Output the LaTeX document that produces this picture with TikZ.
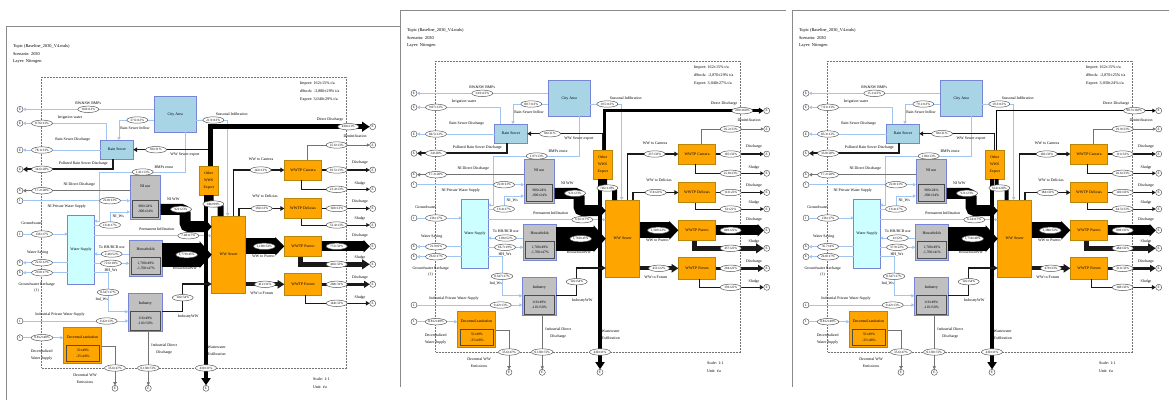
\documentclass[tikz,border=0pt]{standalone}
\usepackage{fontspec}
\setmainfont{Liberation Serif}
\usetikzlibrary{arrows.meta,shapes.geometric}

\definecolor{cityblue}{HTML}{A8D5E6}
\definecolor{wscyan}{HTML}{CCFFFF}
\definecolor{boxline}{HTML}{7685D6}
\definecolor{procgray}{HTML}{C0C0C0}
\definecolor{wwsorange}{HTML}{FFA500}
\definecolor{orline}{HTML}{B8860B}
\definecolor{flowblue}{HTML}{9FC5F0}
\definecolor{framegray}{HTML}{8A8A8A}

% values of the three scenarios
\newcommand\valsA{%
 \def\frameW{394}\def\frameH{374}\def\wDD{5pt}\def\wOWE{6pt}%
 \def\vImp{162±15\% t/a}\def\vStock{-2,880±29\% t/a}\def\vExp{3,040±29\% t/a}%
 \def\vRW{10.8±13\%}\def\vIrr{8.76±13\%}\def\vRSI{37.6±13\%}\def\vRSD{78.1±13\%}%
 \def\vPRSD{34.6±28\%}\def\vWWSE{86±31\%}\def\vBMP{1.41±13\%}\def\vNIDD{17.2±28\%}%
 \def\vNIPWS{22.8±13\%}\def\vNIWs{19.4±17\%}\def\vGW{136±17\%}\def\vWSav{22.6±12\%}%
 \def\vGWR{29.8±17\%}\def\vHHR{2.46±52\%}\def\vHHWs{72.6±18\%}\def\vIndWs{0.347±17\%}%
 \def\vIPWS{9.42±13\%}\def\vDWS{0.812±40\%}%
 \def\vNIa{906±24\%}\def\vNIb{-906±24\%}\def\vHHa{1,700±49\%}\def\vHHb{-1,700±47\%}%
 \def\vINa{116±49\%}\def\vINb{-116±50\%}\def\vDCa{35±49\%}\def\vDCb{-35±48\%}%
 \def\vNIWW{921±23\%}\def\vHHWW{1,770±45\%}\def\vINWW{126±54\%}\def\vPerm{7.48±17\%}%
 \def\vSeas{21.9±13\%}\def\vOWE{946±99\%}\def\vDD{430±21\%}\def\vExf{430±31\%}%
 \def\vDCE{35.6±47\%}\def\vIDD{0.138±72\%}%
 \def\vWWC{142±13\%}\def\vWWD{156±13\%}\def\vWWP{1,190±33\%}\def\vWWF{412±31\%}%
 \def\vDen{25.6±13\%}\def\vCD{93.5±13\%}\def\vCS{23.4±13\%}\def\vDeD{103±13\%}%
 \def\vDeS{53.4±13\%}\def\vPD{772±33\%}\def\vPS{416±33\%}\def\vFD{268±31\%}\def\vFS{144±31\%}}
\newcommand\valsB{\valsA
 \def\frameW{386}\def\frameH{377}\def\wDD{2.5pt}\def\wOWE{5pt}%
 \def\vStock{-2,870±29\% t/a}\def\vExp{3,040±27\% t/a}%
 \def\vRW{14.9±13\%}\def\vIrr{9.07±13\%}\def\vRSI{80.7±13\%}\def\vRSD{84.5±13\%}%
 \def\vPRSD{34±28\%}\def\vBMP{1.97±13\%}\def\vNIDD{17.3±28\%}\def\vWSav{21.9±6\%}%
 \def\vGWR{26.6±17\%}\def\vHHR{1.86±52\%}\def\vHHWs{66.7±19\%}%
 \def\vHHWW{1,760±45\%}\def\vPerm{6.65±17\%}\def\vSeas{19.5±13\%}\def\vOWE{746±110\%}%
 \def\vDD{230±168\%}%
 \def\vWWC{237±33\%}\def\vWWD{174±22\%}\def\vWWP{1,310±22\%}\def\vWWF{451±22\%}%
 \def\vDen{26.2±33\%}\def\vCD{165±33\%}\def\vCS{25.8±33\%}\def\vDeD{113±22\%}%
 \def\vDeS{61±22\%}\def\vPD{849±22\%}\def\vPS{457±22\%}\def\vFD{294±22\%}\def\vFS{159±22\%}}
\newcommand\valsC{\valsA
 \def\frameW{377}\def\frameH{377}\def\wDD{1pt}\def\wOWE{4pt}%
 \def\vStock{-2,870±25\% t/a}\def\vExp{3,030±24\% t/a}%
 \def\vRW{15.1±13\%}\def\vIrr{7.91±13\%}\def\vRSI{79.1±13\%}\def\vRSD{83.3±13\%}%
 \def\vPRSD{33.8±28\%}\def\vBMP{1.86±13\%}\def\vWSav{35.7±4\%}%
 \def\vGWR{24.8±17\%}\def\vHHR{4±32\%}\def\vHHWs{37.9±22\%}\def\vHHb{-1,700±41\%}%
 \def\vHHWW{1,750±40\%}\def\vPerm{6.24±17\%}\def\vSeas{19.3±13\%}\def\vOWE{614±128\%}%
 \def\vDD{98.3±102\%}%
 \def\vWWC{166±33\%}\def\vWWD{184±33\%}\def\vWWP{1,380±32\%}\def\vWWF{479±33\%}%
 \def\vDen{29.9±33\%}\def\vCD{111±33\%}\def\vCS{26.6±33\%}\def\vDeD{120±33\%}%
 \def\vDeS{64.5±33\%}\def\vPD{898±32\%}\def\vPS{484±32\%}\def\vFD{311±33\%}\def\vFS{168±33\%}}

% one scenario panel, local pixel coordinates
\newcommand\flowpanel{%
  % window frame and system boundary
  \draw[framegray, line width=0.9pt] (\frameW,0) -- (0,0) -- (0,\frameH);
  \draw[black!55, densely dotted, line width=0.5pt] (35.7,51) rectangle (340.7,342);
  \node[anchor=west, align=left, font=\fontsize{4.4}{7.3}\selectfont] (topic) at (7,28) {Topic (Baseline\_2030\_V4.mdx)\\Scenario: 2030\\Layer: Nitrogen};
  \node[anchor=west, align=left, font=\fontsize{4.1}{8}\selectfont] (totals) at (294,65.5) {Import: \vImp\\dStock: \vStock\\Export: \vExp};
  \node[anchor=west, align=left, font=\fontsize{4.1}{7.4}\selectfont] (scale) at (307,357) {Scale: 1:1\\Unit: t/a};
  % processes
  \node[bluebox, minimum width=41.7pt, minimum height=35.6pt] (city) at (169.2,88.5) {City Area};
  \node[bluebox, minimum width=32.6pt, minimum height=19.3pt] (rain) at (111,123.7) {Rain Sewer};
  \node[procbox, minimum width=30.7pt, minimum height=43.3pt] (niuse) at (139.3,171.3) {};
  \node (niuse-t) at (139.3,160.7) {NI use};
  \node[stockbox, minimum width=25.6pt, minimum height=17.3pt] (niuse-s) at (139.5,182.7) {\vNIa\\\vNIb};
  \node[wsbox, minimum width=26.6pt, minimum height=69pt] (water) at (75,223.5) {Water Supply};
  \node[procbox, minimum width=33pt, minimum height=35.3pt] (hh) at (139.8,232.3) {};
  \node (hh-t) at (139.8,223.3) {Households};
  \node[stockbox, minimum width=28.3pt, minimum height=16.7pt] (hh-s) at (139.9,239.7) {\vHHa\\\vHHb};
  \node[procbox, minimum width=34pt, minimum height=38.4pt] (ind) at (139.3,286.5) {};
  \node (ind-t) at (139.3,277.3) {Industry};
  \node[stockbox, minimum width=29.3pt, minimum height=19pt] (ind-s) at (139.3,295.2) {\vINa\\\vINb};
  \node[orbox, minimum width=38.4pt, minimum height=36pt] (dec) at (76.5,319.3) {};
  \node (dec-t) at (76.5,310.7) {Decentral sanitation};
  \node[stockbox, fill=wwsorange, minimum width=32.3pt, minimum height=16.7pt] (dec-s) at (76.9,327.3) {\vDCa\\\vDCb};
  \node[orbox, minimum width=19.3pt, minimum height=29pt, align=center, font=\fontsize{3.8}{7}\selectfont] (oww) at (202.7,154.5) {Other\\WWS\\Export};
  \node[orbox, minimum width=34pt, minimum height=77.3pt] (sewer) at (222.7,228.7) {WW Sewer};
  \foreach \n/\t/\y/\h in {cant/Cantera/144/20, deli/Delicias/182.5/20.4, puer/Puerto/220.3/20.7, foru/Forum/258.3/22}
    \node[orbox, minimum width=37.4pt, minimum height=\h pt] (wwtp-\n) at (297,\y) {WWTP \t};
  % import and export terminals
  \foreach \n/\y/\t in {rw/83.3/E, irr/97.3/E, rsd/124/E, prsd/143.3/E, nidd/164.7/E, nipws/174.7/I, gw/208/I, wsav/236.7/E, gwr/246.7/E, ipws/295/I, dws/311.7/I}
    \node[term] (t-\n) at (14,\y) {\t};
  \foreach \n/\y in {dd/100.7, den/119, cd/144, cs/163.3, ded/182.5, des/199, pd/220.3, ps/238.3, fd/258.3, fs/277.3}
    \node[term] (t-\n) at (366.7,\y) {E};
  \foreach \n/\x in {dce/109, idd/142.3, exf/200}
    \node[term] (t-\n) at (\x,362.3) {E};
  % water and storm water flows
  \draw[lb] (city.west |- t-rw) -- (t-rw);
  \draw[lb] ([xshift=5.3pt]rain.north west) |- (t-irr);
  \draw[lb] ([yshift=-5.5pt]city.west) -| ([xshift=2pt]rain.north);
  \draw[lb] (rain.west |- t-rsd) -- (t-rsd);
  \draw[lb] ([xshift=9.8pt]city.south) |- (93,146) -- (93,195) -- ([yshift=28.5pt]water.east);
  \draw[lb] (t-nipws) -- (niuse.west |- t-nipws);
  \draw[lb] ([yshift=24.5pt]water.east) -| (104,186) -- ([yshift=-14.7pt]niuse.west);
  \draw[lb] (t-gw) -- (water.west |- t-gw);
  \draw[lb] (water.west |- t-wsav) -- (t-wsav);
  \draw[lb] (water.west |- t-gwr) -- (t-gwr);
  \draw[lb] ([yshift=4.3pt]hh.west) -- ([yshift=-4.5pt]water.east);
  \draw[lb] ([yshift=-13.8pt]water.east) -- ([yshift=-5pt]hh.west);
  \draw[lb] ([yshift=-23.2pt]water.east) -| (102,285.7) -- ([yshift=0.8pt]ind.west);
  \draw[lb] (t-ipws) -- (ind.west |- t-ipws);
  \draw[lb] (t-dws) -- (dec.west |- t-dws);
  \draw[lb] ([yshift=13.8pt]water.east) -- ([yshift=19pt]sewer.west);
  \draw[lb] ([yshift=-5.5pt]city.east) -| ([xshift=-1pt]sewer.north);
  % nitrogen in wastewater
  \draw[gl] (niuse.west |- t-nidd) -- (t-nidd);
  \draw[dk, line width=2pt] ([xshift=-4.3pt]rain.south) |- (t-prsd);
  \draw[dk, line width=1.5pt] ([xshift=-0.4pt]oww.north) |- (rain.east);
  \draw[blk=\wDD] ([xshift=2pt]oww.north) |- (t-dd);
  \draw[blk=\wOWE, -, rounded corners=3pt] ([xshift=-8pt]sewer.north) -- ++(0,12pt) -| ([xshift=2pt]oww.south);
  \draw[blk=4.5pt] ([xshift=-2.7pt]oww.south) -- (t-exf);
  \draw[band=11pt, rounded corners=4pt, -{Triangle[length=6pt,width=13pt]}] ([yshift=-12pt]niuse.east) -- (179,183.3) -- (179,200.7) -- ([yshift=28pt]sewer.west);
  \draw[band=24pt, -{Triangle[length=12pt,width=26pt]}] (hh.east |- sewer.west) -- (sewer.west);
  \draw[dk, line width=1.5pt] ([yshift=0.8pt]ind.east) -- (176.7,285.7) |- ([yshift=-29.3pt]sewer.west);
  \draw[dk, line width=1.5pt] ([xshift=4.6pt]sewer.north) |- (wwtp-cant.west);
  \draw[dk, line width=1.5pt] ([xshift=10.3pt]sewer.north) |- (wwtp-deli.west);
  \draw[band=16pt, -{Triangle[length=9pt,width=18pt]}] (sewer.east |- wwtp-puer.west) -- (wwtp-puer.west);
  \draw[dk, line width=4pt] (sewer.east |- wwtp-foru.west) -- (wwtp-foru.west);
  \draw[gl, line width=0.6pt] ([xshift=4.3pt]wwtp-cant.north) |- (t-den);
  \draw[dk, line width=1.2pt] (wwtp-cant.east) -- (t-cd);
  \draw[dk, line width=1pt] ([xshift=-1.3pt]wwtp-cant.south) |- (t-cs);
  \draw[dk, line width=1.2pt] (wwtp-deli.east) -- (t-ded);
  \draw[dk, line width=1pt] ([xshift=-1.3pt]wwtp-deli.south) |- (t-des);
  \draw[band=10pt, -{Triangle[length=6pt,width=12pt]}] (wwtp-puer.east) -- (t-pd);
  \draw[dk, line width=5pt] ([xshift=-3pt]wwtp-puer.south) |- (t-ps);
  \draw[dk, line width=3pt] (wwtp-foru.east) -- (t-fd);
  \draw[dk, line width=1.5pt] ([xshift=2.7pt]wwtp-foru.south) |- (t-fs);
  \draw[gl] ([yshift=-1.4pt]dec.east) -| (t-dce);
  \draw[gl, line width=0.6pt] (ind.south -| t-idd) -- (t-idd);
  % flow values
  \foreach \n/\x/\y/\v in {rw/82.3/83.3/\vRW, irr/36/97.3/\vIrr, rsi/131.3/94/\vRSI, rsd/36/124/\vRSD,
      prsd/36/143.3/\vPRSD, wwse/150/123.7/\vWWSE, bmp/136.7/146/\vBMP, nidd/36/164.7/\vNIDD,
      nipws/104/174.7/\vNIPWS, niws/104/199/\vNIWs, gw/36/208/\vGW, wsav/36/236.7/\vWSav,
      gwr/36/246.7/\vGWR, hhr/105.7/228/\vHHR, hhws/105/237.3/\vHHWs, indws/102/266.3/\vIndWs,
      ipws/100.7/295/\vIPWS, dws/36/311.7/\vDWS, niww/175/183.3/\vNIWW, hhww/180.7/228.7/\vHHWW,
      indww/176.7/271.7/\vINWW, perm/182.3/209.7/\vPerm, seas/207.3/94/\vSeas, owe/207.3/178/\vOWE,
      dd/342.3/100.7/\vDD, exf/200/342/\vExf, dce/109/342/\vDCE, idd/142.3/342/\vIDD,
      wwc/254.7/144/\vWWC, wwd/255.7/182.5/\vWWD, wwp/258.3/220.3/\vWWP, wwf/259/258.3/\vWWF,
      den/330.7/119/\vDen, cd/330.7/144/\vCD, cs/330.7/163.3/\vCS, ded/330.7/182.5/\vDeD,
      des/330.7/199/\vDeS, pd/330.7/220.3/\vPD, ps/330.7/238.3/\vPS, fd/330.7/258.3/\vFD, fs/330.7/277.3/\vFS}
    \node[val] (v-\n) at (\x,\y) {\v};
  % flow names
  \node (l-rw) at (82.3,77.3) {RW\&SW BMPs};
  \node (l-irr) at (64,91.7) {Irrigation water};
  \node (l-rsi) at (129,102.3) {Rain Sewer Inflow};
  \node (l-rsd) at (66.7,114) {Rain Sewer Discharge};
  \node (l-prsd) at (77.3,138) {Polluted Rain Sewer Discharge};
  \node (l-wwse) at (179,128.3) {WW Sewer export};
  \node (l-bmp) at (158,141.7) {BMPs reuse};
  \node (l-nidd) at (73.3,159) {NI Direct Discharge};
  \node (l-nipws) at (60.7,180.7) {NI Private Water Supply};
  \node (l-niww) at (167.3,173) {NI WW};
  \node (l-niws) at (112.3,190) {NI\_Ws};
  \node (l-gw) at (25.7,196.7) {Groundwater};
  \node (l-perm) at (150.7,203.3) {Permanent Infiltration};
  \node (l-hhr) at (105.7,221.3) {To HH/BCR use};
  \node (l-hhws) at (105,244.5) {HH\_Ws};
  \node (l-hhww) at (179,242.3) {HouseholdWW};
  \node (l-wsav) at (31.7,226.3) {Water Saving};
  \node[lbl2] (l-gwr) at (30.7,261.5) {Groundwater Recharge\\(1)};
  \node (l-indws) at (95.7,273.3) {Ind\_Ws};
  \node (l-indww) at (182.3,290.7) {IndustryWW};
  \node (l-ipws) at (54,288.3) {Industrial Private Water Supply};
  \node[lbl2] (l-dws) at (35.7,328.7) {Decentralized\\Water Supply};
  \node[lbl2] (l-dce) at (79,352.7) {Decentral WW\\Emissions};
  \node[lbl2] (l-idd) at (158.3,323.3) {Industrial Direct\\Discharge};
  \node[lbl2] (l-exf) at (210.7,324.7) {Wastewater\\Exfiltration};
  \node (l-seas) at (225.7,88.3) {Seasonal Infiltration};
  \node (l-dd) at (324,93.3) {Direct Discharge};
  \node (l-den) at (349,109.7) {Denitrification};
  \node (l-wwc) at (255,133) {WW to Cantera};
  \node (l-wwd) at (259,170) {WW to Delicias};
  \node (l-wwp) at (257.3,230) {WW to Puerto};
  \node (l-wwf) at (255.7,267.3) {WW to Forum};
  \foreach \n/\y/\t in {cd/136.3/Discharge, cs/157.3/Sludge, ded/175.7/Discharge, des/193/Sludge, pd/210/Discharge, ps/231.3/Sludge, fd/251.3/Discharge, fs/271.7/Sludge}
    \node (l-\n) at (354,\y) {\t};
}

\begin{document}
\begin{tikzpicture}[x=1pt, y=-1pt,
    every node/.style={font=\fontsize{3.9}{4.5}\selectfont, inner sep=0pt, outer sep=0pt},
    >={Triangle[length=2.2pt 1.1, width=2.2pt 1.5]},
    bluebox/.style={draw=boxline, fill=cityblue, line width=0.8pt},
    wsbox/.style={draw=boxline, fill=wscyan, line width=0.8pt},
    procbox/.style={draw=boxline, fill=procgray, line width=0.8pt},
    stockbox/.style={draw=black!70, fill=procgray, line width=0.6pt, align=center, font=\fontsize{3.6}{5.2}\selectfont},
    orbox/.style={draw=orline, fill=wwsorange, line width=0.6pt},
    term/.style={circle, draw=black!75, fill=white, minimum size=6pt, line width=0.4pt, font=\fontsize{3.4}{3.4}\selectfont},
    val/.style={ellipse, draw=black!65, fill=white, line width=0.5pt, minimum width=21pt, minimum height=6.4pt, font=\fontsize{3.3}{3.3}\selectfont},
    lbl2/.style={align=center, font=\fontsize{3.9}{6.8}\selectfont},
    lb/.style={draw=flowblue, line width=0.6pt, ->},
    gl/.style={draw=black!55, line width=0.8pt, ->},
    dk/.style={draw=black!90, ->},
    blk/.style={draw=black, line width=#1, ->},
    band/.style={draw=black, line width=#1}]
  \fill[white] (0,0) rectangle (1169,400);
  \useasboundingbox (0,0) rectangle (1169,400);
  \begin{scope}[shift={(6,26)}, name prefix=a-]
    \valsA \flowpanel
  \end{scope}
  \begin{scope}[shift={(400,10)}, name prefix=b-]
    \valsB \flowpanel
  \end{scope}
  \begin{scope}[shift={(792,10)}, name prefix=c-]
    \valsC \flowpanel
  \end{scope}
\end{tikzpicture}
\end{document}
